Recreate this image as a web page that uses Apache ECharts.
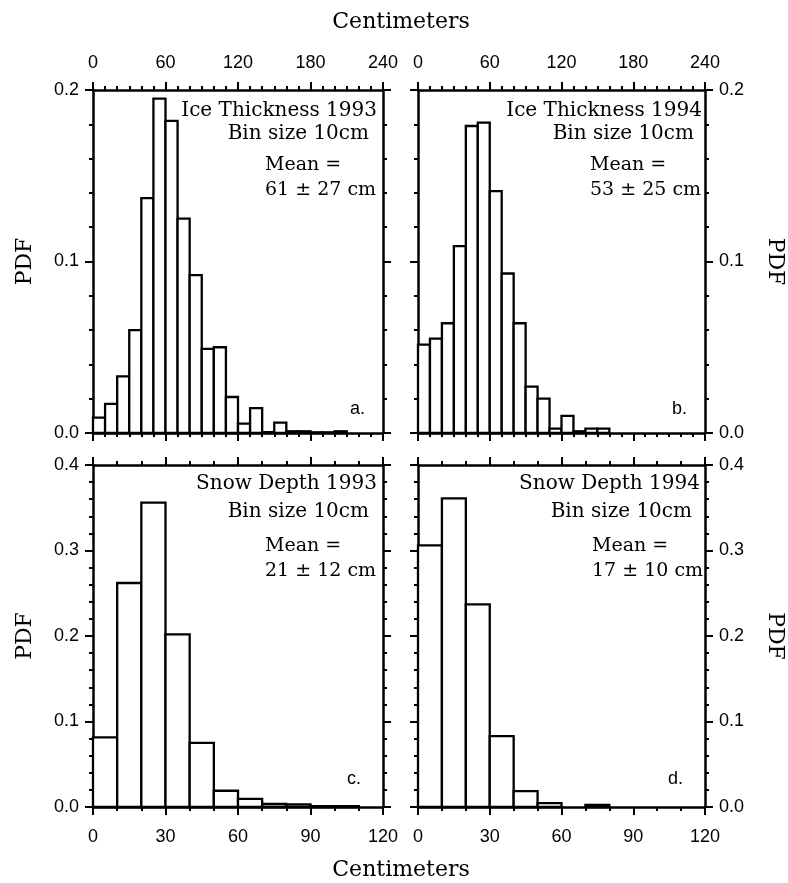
<!DOCTYPE html>
<html lang="en">
<head>
  <meta charset="UTF-8">
  <title>Ice thickness and snow depth PDF</title>
  <script src="https://cdn.jsdelivr.net/npm/echarts@6/dist/echarts.min.js"></script>
  <style>
    body { margin: 0; padding: 0; background: #fff; }
    #chart { width: 788px; height: 883px; }
  </style>
</head>
<body>
<div id="chart"></div>
<script>
  // bin size (cm) shared by all four histograms
  const binSize = 10;

  // PDF per 10 cm bin
  const ice1993 = [0.009, 0.017, 0.033, 0.060, 0.137, 0.195, 0.182, 0.125, 0.092, 0.049,
                   0.050, 0.021, 0.0055, 0.0145, 0.0005, 0.006, 0.001, 0.001, 0.0004, 0.0004,
                   0.001, 0, 0, 0];
  const ice1994 = [0.0515, 0.055, 0.064, 0.109, 0.179, 0.181, 0.141, 0.093, 0.064, 0.027,
                   0.020, 0.0025, 0.010, 0.001, 0.0025, 0.0025, 0, 0, 0, 0,
                   0, 0, 0, 0];
  const snow1993 = [0.0815, 0.262, 0.356, 0.202, 0.075, 0.019, 0.0095, 0.0035, 0.003, 0.001, 0.001, 0];
  const snow1994 = [0.306, 0.361, 0.237, 0.083, 0.0185, 0.0045, 0, 0.0025, 0, 0, 0, 0];

  const panelTitles = ['Ice Thickness 1993', 'Ice Thickness 1994', 'Snow Depth 1993', 'Snow Depth 1994'];
  const meanLabels = ['61 ± 27 cm', '53 ± 25 cm', '21 ± 12 cm', '17 ± 10 cm'];
  const panelLetters = ['a.', 'b.', 'c.', 'd.'];

  const serif = 'DejaVu Serif';
  const sans = 'Liberation Sans';

  function toBins(values) {
    return values.map((v, i) => [i * binSize, (i + 1) * binSize, v]);
  }

  // grids: a (top left), b (top right), c (bottom left), d (bottom right)
  const grids = [
    { left: 93, top: 90, width: 290, height: 343 },
    { left: 418, top: 90, width: 287, height: 343 },
    { left: 93, top: 465, width: 290, height: 342 },
    { left: 418, top: 465, width: 287, height: 342 }
  ];

  const line = { color: '#000', width: 2.5 };
  const tick = { color: '#000', width: 2 };

  function xAxis(gridIndex, position, max, interval, showLabel) {
    return {
      type: 'value', gridIndex, position, min: 0, max, interval,
      axisLine: { show: true, onZero: false, lineStyle: line },
      axisTick: { show: true, inside: false, length: 8, lineStyle: tick },
      minorTick: { show: true, splitNumber: interval / binSize, length: 4, lineStyle: tick },
      axisLabel: {
        show: showLabel, margin: position === 'top' ? 18 : 21,
        color: '#000', fontFamily: sans, fontSize: 18
      },
      splitLine: { show: false }
    };
  }

  function yAxis(gridIndex, position, max, showLabel, showName) {
    return {
      type: 'value', gridIndex, position, min: 0, max, interval: 0.1,
      axisLine: { show: true, onZero: false, lineStyle: line },
      axisTick: { show: true, inside: false, length: 8, lineStyle: tick },
      minorTick: { show: true, splitNumber: 5, length: 4, lineStyle: tick },
      axisLabel: {
        show: showLabel, margin: 14, color: '#000', fontFamily: sans, fontSize: 18,
        formatter: v => v.toFixed(1)
      },
      name: showName ? 'PDF' : '',
      nameLocation: 'middle',
      nameGap: position === 'left' ? 57 : 59,
      nameRotate: position === 'left' ? 90 : -90,
      nameTextStyle: { color: '#000', fontFamily: serif, fontSize: 22 },
      splitLine: { show: false }
    };
  }

  const xAxes = [
    xAxis(0, 'bottom', 240, 60, false), xAxis(0, 'top', 240, 60, true),
    xAxis(1, 'bottom', 240, 60, false), xAxis(1, 'top', 240, 60, true),
    xAxis(2, 'bottom', 120, 30, true), xAxis(2, 'top', 120, 30, false),
    xAxis(3, 'bottom', 120, 30, true), xAxis(3, 'top', 120, 30, false)
  ];
  const yAxes = [
    yAxis(0, 'left', 0.2, true, true), yAxis(0, 'right', 0.2, false, false),
    yAxis(1, 'left', 0.2, false, false), yAxis(1, 'right', 0.2, true, true),
    yAxis(2, 'left', 0.4, true, true), yAxis(2, 'right', 0.4, false, false),
    yAxis(3, 'left', 0.4, false, false), yAxis(3, 'right', 0.4, true, true)
  ];

  function renderBin(params, api) {
    const y = api.value(2);
    if (!(y > 0)) return null;
    const p0 = api.coord([api.value(0), y]);
    const p1 = api.coord([api.value(1), 0]);
    return {
      type: 'rect',
      shape: { x: p0[0], y: p0[1], width: p1[0] - p0[0], height: p1[1] - p0[1] },
      style: { fill: '#fff', stroke: '#000', lineWidth: 2.3 }
    };
  }

  const seriesData = [ice1993, ice1994, snow1993, snow1994];
  const series = seriesData.map((vals, i) => ({
    type: 'custom',
    xAxisIndex: i * 2,
    yAxisIndex: i * 2,
    renderItem: renderBin,
    encode: { x: [0, 1], y: 2 },
    data: toBins(vals),
    z: 3
  }));

  // text inside each panel
  const textPos = [
    { right: 377, left: 265, y1: 111, y2: 134, y3: 165, y4: 190, lx: 350, ly: 409 },
    { right: 702, left: 590, y1: 111, y2: 134, y3: 165, y4: 190, lx: 672, ly: 409 },
    { right: 377, left: 265, y1: 484, y2: 512, y3: 546, y4: 571, lx: 347, ly: 779 },
    { right: 700, left: 592, y1: 484, y2: 512, y3: 546, y4: 571, lx: 668, ly: 779 }
  ];
  const panelFont = '20px "' + serif + '"';
  const meanFont = '19px "' + serif + '"';
  const graphics = [];
  textPos.forEach((p, i) => {
    graphics.push(
      { type: 'text', x: p.right, y: p.y1, z: 10,
        style: { text: panelTitles[i], font: panelFont, fill: '#000', textAlign: 'right', textVerticalAlign: 'middle' } },
      { type: 'text', x: p.right - 8, y: p.y2, z: 10,
        style: { text: 'Bin size 10cm', font: panelFont, fill: '#000', textAlign: 'right', textVerticalAlign: 'middle' } },
      { type: 'text', x: p.left, y: p.y3, z: 10,
        style: { text: 'Mean =', font: meanFont, fill: '#000', textAlign: 'left', textVerticalAlign: 'middle' } },
      { type: 'text', x: p.left, y: p.y4, z: 10,
        style: { text: meanLabels[i], font: meanFont, fill: '#000', textAlign: 'left', textVerticalAlign: 'middle' } },
      { type: 'text', x: p.lx, y: p.ly, z: 10,
        style: { text: panelLetters[i], font: '18px "' + sans + '"', fill: '#000', textAlign: 'left', textVerticalAlign: 'middle' } }
    );
  });
  // shared axis titles
  graphics.push(
    { type: 'text', x: 401, y: 22, style: { text: 'Centimeters', font: '22px "' + serif + '"', fill: '#000', textAlign: 'center', textVerticalAlign: 'middle' } },
    { type: 'text', x: 401, y: 870, style: { text: 'Centimeters', font: '22px "' + serif + '"', fill: '#000', textAlign: 'center', textVerticalAlign: 'middle' } }
  );

  const chart = echarts.init(document.getElementById('chart'));
  chart.setOption({
    animation: false,
    backgroundColor: '#fff',
    grid: grids,
    xAxis: xAxes,
    yAxis: yAxes,
    series: series,
    graphic: graphics
  });
</script>
</body>
</html>
